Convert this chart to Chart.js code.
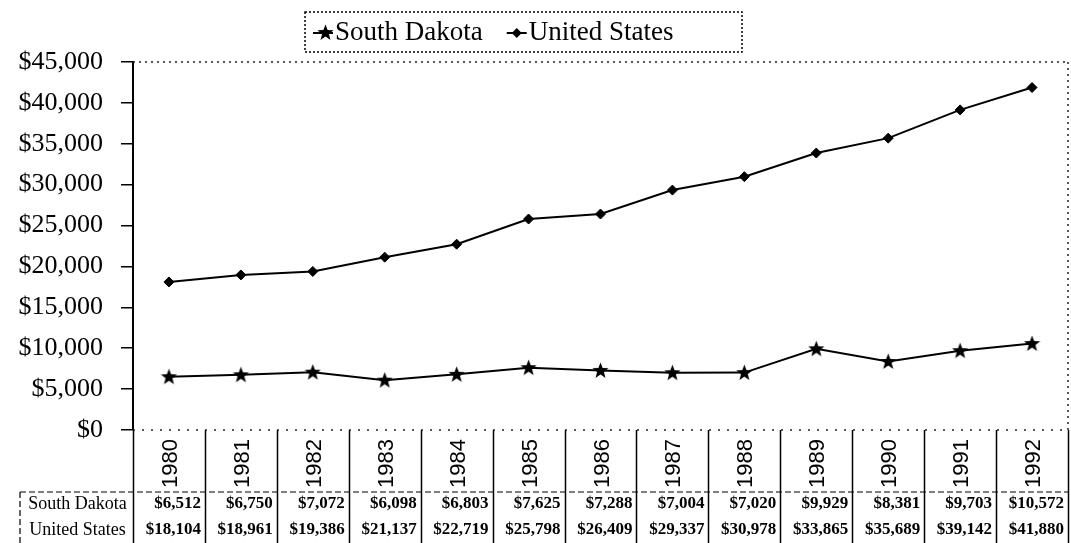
<!DOCTYPE html>
<html>
<head>
<meta charset="utf-8">
<script src="https://cdn.jsdelivr.net/npm/chart.js@4.4.1/dist/chart.umd.min.js"></script>
<style>
  body { margin: 0; background: #fff; }
  #wrap { width: 1071px; height: 543px; position: relative; }
</style>
</head>
<body>
<div id="wrap"><canvas id="income"></canvas></div>
<script>
// Per capita values
const years = ['1980', '1981', '1982', '1983', '1984', '1985', '1986', '1987', '1988', '1989', '1990', '1991', '1992'];
const southDakota = [6512, 6750, 7072, 6098, 6803, 7625, 7288, 7004, 7020, 9929, 8381, 9703, 10572];
const unitedStates = [18104, 18961, 19386, 21137, 22719, 25798, 26409, 29337, 30978, 33865, 35689, 39142, 41880];
const seriesNames = ['South Dakota', 'United States'];

const SERIF = '"Liberation Serif", "Times New Roman", serif';
const SANS = '"Liberation Sans", Arial, sans-serif';

const money = v => '$' + Number(v).toLocaleString('en-US');

// filled five point star used as the South Dakota marker
function makeStar(size) {
    const c = document.createElement('canvas');
    c.width = size; c.height = size;
    const g = c.getContext('2d');
    const cx = size / 2, cy = size / 2 + 0.5;
    const outer = size / 2, inner = outer * 0.42;
    g.beginPath();
    for (let i = 0; i < 10; i++) {
        const r = i % 2 === 0 ? outer : inner;
        const a = -Math.PI / 2 + i * Math.PI / 5;
        const px = cx + r * Math.cos(a), py = cy + r * Math.sin(a);
        if (i === 0) g.moveTo(px, py); else g.lineTo(px, py);
    }
    g.closePath();
    g.fillStyle = '#000';
    g.fill();
    return c;
}
const starImg = makeStar(17);

// draws plot border, category/table area and legend like the old Excel sheet
const sheetPlugin = {
    id: 'sheet',
    beforeDatasetsDraw(chart) {
        const { ctx, chartArea } = chart;
        const { left, right, top, bottom } = chartArea;
        ctx.save();
        ctx.strokeStyle = '#222';
        ctx.lineWidth = 1.5;
        ctx.setLineDash([2, 4]);
        ctx.beginPath();
        ctx.moveTo(left, top); ctx.lineTo(right, top);
        ctx.moveTo(right, top); ctx.lineTo(right, bottom);
        ctx.stroke();
        ctx.setLineDash([2, 7]);
        ctx.beginPath();
        ctx.moveTo(left, bottom); ctx.lineTo(right, bottom);
        ctx.stroke();
        ctx.restore();
    },
    afterDraw(chart) {
        const { ctx, chartArea, scales } = chart;
        const xs = scales.x;
        const H = chart.height;
        const bottom = chartArea.bottom;
        const step = xs.getPixelForValue(1) - xs.getPixelForValue(0);
        const tableTop = 492;
        const rowY = [504, 530];
        const labelLeft = 20;
        ctx.save();

        // vertical category separators
        ctx.strokeStyle = '#000';
        ctx.lineWidth = 1.5;
        for (let i = 0; i <= years.length; i++) {
            const x = Math.round(xs.getPixelForValue(0) - step / 2 + i * step) + 0.5;
            ctx.beginPath();
            ctx.moveTo(x, bottom);
            ctx.lineTo(x, H);
            ctx.stroke();
        }

        // table frame
        ctx.setLineDash([6, 3]);
        ctx.lineWidth = 1.2;
        ctx.beginPath();
        ctx.moveTo(labelLeft, tableTop); ctx.lineTo(chartArea.right, tableTop);
        ctx.moveTo(labelLeft, tableTop); ctx.lineTo(labelLeft, H);
        ctx.stroke();
        ctx.setLineDash([]);

        // rotated year labels
        ctx.fillStyle = '#000';
        ctx.font = '22px ' + SANS;
        ctx.textAlign = 'left';
        ctx.textBaseline = 'middle';
        years.forEach((y, i) => {
            const x = xs.getPixelForValue(i) + 2;
            ctx.save();
            ctx.translate(x, 488);
            ctx.rotate(-Math.PI / 2);
            ctx.fillText(y, 0, 0);
            ctx.restore();
        });

        // data table rows
        const rows = [southDakota, unitedStates];
        ctx.font = '18px ' + SERIF;
        ctx.textAlign = 'center';
        seriesNames.forEach((name, r) => {
            ctx.fillText(name, (labelLeft + chartArea.left) / 2 + 1, rowY[r]);
        });
        ctx.font = 'bold 17px ' + SERIF;
        ctx.textAlign = 'right';
        rows.forEach((vals, r) => {
            vals.forEach((v, i) => {
                const x = xs.getPixelForValue(i) + step / 2 - 4;
                ctx.fillText(money(v), x, rowY[r]);
            });
        });

        // legend
        const box = { x: 305, y: 12, w: 437, h: 40 };
        ctx.strokeStyle = '#000';
        ctx.lineWidth = 1.5;
        ctx.setLineDash([2, 2]);
        ctx.strokeRect(box.x, box.y, box.w, box.h);
        ctx.setLineDash([]);
        ctx.font = '27px ' + SERIF;
        ctx.textAlign = 'left';
        ctx.textBaseline = 'middle';
        let lx = box.x + 8;
        const ly = box.y + box.h / 2 + 1;
        chart.data.datasets.forEach((ds, i) => {
            ctx.lineWidth = 2;
            ctx.beginPath();
            ctx.moveTo(lx, ly); ctx.lineTo(lx + 20, ly);
            ctx.stroke();
            if (i === 0) {
                ctx.drawImage(starImg, lx + 4, ly - 9);
            } else {
                ctx.beginPath();
                ctx.moveTo(lx + 10, ly - 5); ctx.lineTo(lx + 15, ly);
                ctx.lineTo(lx + 10, ly + 5); ctx.lineTo(lx + 5, ly);
                ctx.closePath();
                ctx.fill();
            }
            ctx.fillText(ds.label, lx + 22, ly);
            lx += 22 + ctx.measureText(ds.label).width + 24;
        });
        ctx.restore();
    }
};

new Chart(document.getElementById('income'), {
    type: 'line',
    data: {
        labels: years,
        datasets: [
            {
                label: seriesNames[0],
                data: southDakota,
                borderColor: '#000',
                borderWidth: 2,
                pointStyle: starImg,
                pointRadius: 8,
                tension: 0
            },
            {
                label: seriesNames[1],
                data: unitedStates,
                borderColor: '#000',
                backgroundColor: '#000',
                borderWidth: 2,
                pointStyle: 'rectRot',
                pointRadius: 5,
                pointBorderWidth: 1,
                tension: 0
            }
        ]
    },
    options: {
        responsive: true,
        maintainAspectRatio: false,
        animation: false,
        layout: { autoPadding: false, padding: { top: 62, right: 3, left: 0, bottom: 0 } },
        plugins: {
            legend: { display: false },
            tooltip: { enabled: false }
        },
        scales: {
            x: {
                type: 'category',
                offset: true,
                grid: { display: false },
                border: { display: false },
                ticks: { display: false },
                afterFit: s => { s.height = 113; }
            },
            y: {
                min: 0,
                max: 45000,
                ticks: {
                    stepSize: 5000,
                    color: '#000',
                    padding: 18,
                    font: { family: SERIF, size: 26 },
                    callback: v => money(v)
                },
                grid: {
                    drawOnChartArea: false,
                    drawTicks: true,
                    tickLength: 12,
                    color: '#000',
                    lineWidth: 1.5
                },
                border: { display: true, color: '#000', width: 2, dash: [2, 2] },
                afterFit: s => { s.width = 133; }
            }
        }
    },
    plugins: [sheetPlugin]
});
</script>
</body>
</html>
